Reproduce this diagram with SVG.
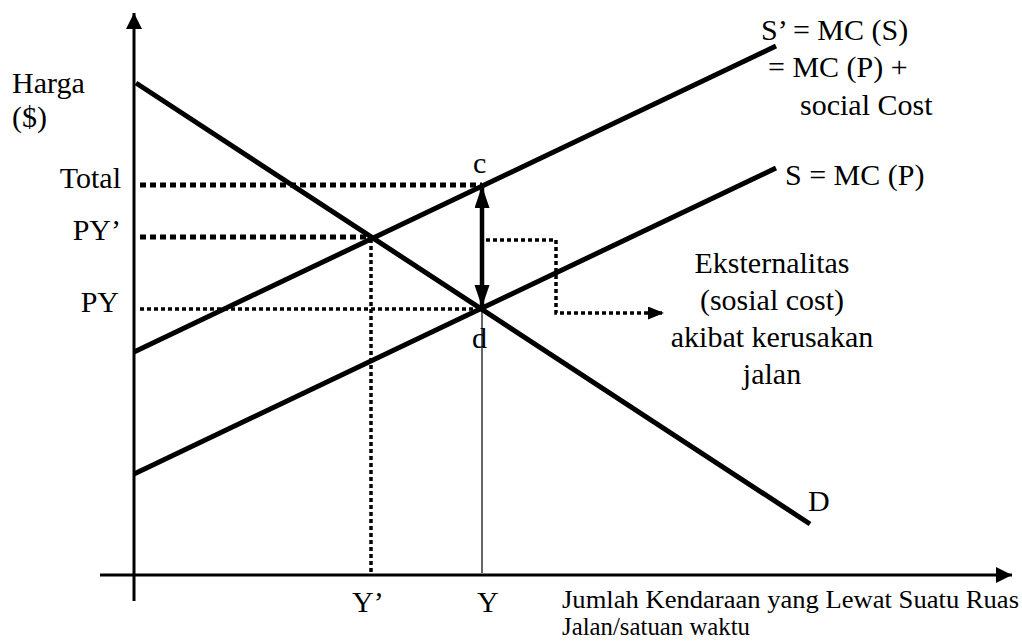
<svg xmlns="http://www.w3.org/2000/svg" width="1022" height="642" viewBox="0 0 1022 642">
  <style>
    text { font-family: "Liberation Serif", "Times New Roman", serif; font-size: 30px; fill: #000; }
    .small { font-size: 26px; }
    .curve { stroke: #000; stroke-width: 5; fill: none; stroke-linecap: butt; }
    .axis { stroke: #000; stroke-width: 3; fill: none; }
    .dotBig { stroke: #000; stroke-width: 5; stroke-dasharray: 6 4; fill: none; }
    .dotSmall { stroke: #000; stroke-width: 3.5; stroke-dasharray: 4 3; fill: none; }
    .thin { stroke: #000; stroke-width: 1.2; fill: none; }
  </style>
  <defs>
    <marker id="axisHead" markerUnits="userSpaceOnUse" markerWidth="18" markerHeight="18" refX="16" refY="8" orient="auto">
      <path d="M0,0 L16,8 L0,16 Z" fill="#000"/>
    </marker>
    <marker id="gapHead" markerUnits="userSpaceOnUse" markerWidth="24" markerHeight="16" refX="22" refY="7.5" orient="auto-start-reverse">
      <path d="M0,0 L22,7.5 L0,15 Z" fill="#000"/>
    </marker>
    <marker id="noteHead" markerUnits="userSpaceOnUse" markerWidth="18" markerHeight="14" refX="16" refY="6.5" orient="auto">
      <path d="M0,0 L16,6.5 L0,13 Z" fill="#000"/>
    </marker>
  </defs>

  <!-- axes -->
  <g id="axes">
    <line class="axis" x1="134" y1="601" x2="134" y2="13" marker-end="url(#axisHead)"/>
    <line class="axis" x1="100" y1="575" x2="1012" y2="575" marker-end="url(#axisHead)"/>
  </g>

  <!-- guide lines and arrows -->
  <g id="connectors">
    <line class="dotBig" x1="140" y1="185" x2="482" y2="185"/>
    <line class="dotBig" x1="140" y1="237" x2="372" y2="237"/>
    <line class="dotSmall" x1="140" y1="309" x2="482" y2="309"/>
    <line class="dotSmall" x1="371" y1="239" x2="371" y2="573"/>
    <line class="thin" x1="482" y1="309" x2="482" y2="573"/>
    <line stroke="#000" stroke-width="4.5" x1="482" y1="186" x2="482" y2="307" marker-start="url(#gapHead)" marker-end="url(#gapHead)"/>
    <polyline class="dotSmall" stroke-width="3" stroke-dasharray="5 3" points="486,240 556,240 556,313 664,313" marker-end="url(#noteHead)"/>
  </g>

  <!-- demand and supply curves -->
  <g id="curve-D">
    <line class="curve" x1="136" y1="83" x2="810" y2="524"/>
    <text x="808" y="511">D</text>
  </g>
  <g id="curve-S-social">
    <line class="curve" x1="134" y1="352" x2="776" y2="46"/>
    <text x="761" y="40">S’ = MC (S)</text>
    <text x="768" y="77">= MC (P) +</text>
    <text x="800" y="115">social Cost</text>
  </g>
  <g id="curve-S-private">
    <line class="curve" x1="134" y1="474" x2="776" y2="168"/>
    <text x="785" y="185">S = MC (P)</text>
  </g>

  <!-- point labels -->
  <g id="point-c"><text x="473" y="173">c</text></g>
  <g id="point-d"><text x="472" y="348">d</text></g>

  <!-- price axis labels -->
  <g id="price-labels">
    <text x="12" y="93">Harga</text>
    <text x="12" y="127">($)</text>
    <text x="121" y="188" text-anchor="end">Total</text>
    <text x="121" y="240" text-anchor="end">PY’</text>
    <text x="119" y="312" text-anchor="end">PY</text>
  </g>

  <!-- quantity axis labels -->
  <g id="quantity-labels">
    <text x="352" y="612">Y’</text>
    <text x="477" y="612">Y</text>
    <text class="small" x="562" y="608" textLength="457" lengthAdjust="spacingAndGlyphs">Jumlah Kendaraan yang Lewat Suatu Ruas</text>
    <text class="small" x="562" y="635" textLength="188" lengthAdjust="spacingAndGlyphs">Jalan/satuan waktu</text>
  </g>

  <!-- externality note -->
  <g id="note-externality" text-anchor="middle">
    <text x="772" y="273">Eksternalitas</text>
    <text x="772" y="310">(sosial cost)</text>
    <text x="772" y="347">akibat kerusakan</text>
    <text x="772" y="384">jalan</text>
  </g>
</svg>
